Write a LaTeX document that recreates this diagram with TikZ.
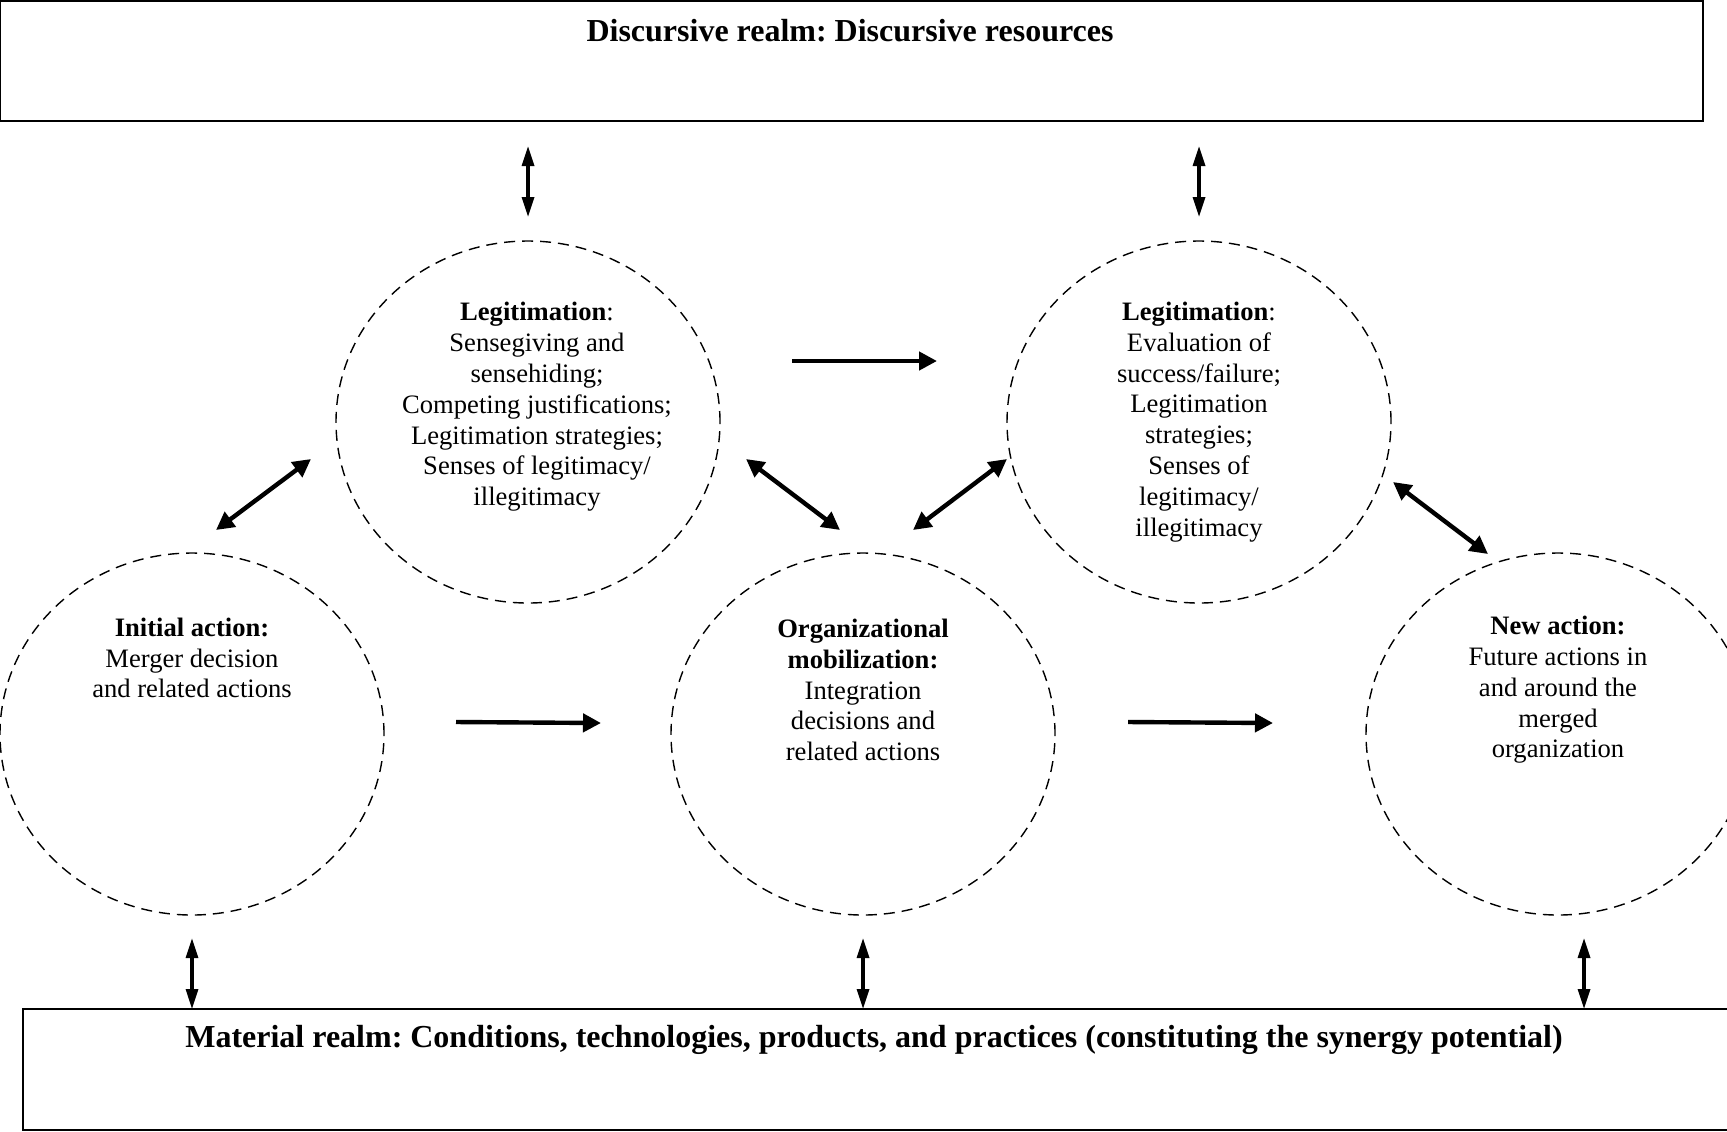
\documentclass[tikz,border=0pt]{standalone}
\usepackage{fontspec}
\setmainfont{Liberation Serif}
\usetikzlibrary{shapes.geometric,arrows.meta}
\begin{document}
\frenchspacing
\begin{tikzpicture}[x=0.5pt,y=-0.5pt,
  realm/.style={draw,line width=1pt,rectangle},
  title/.style={font=\fontsize{16}{19}\selectfont\bfseries,anchor=center},
  circ/.style={draw,dashed,dash pattern=on 5.5pt off 3.5pt,line width=0.7pt,ellipse,minimum width=384*0.5pt,minimum height=362*0.5pt,inner sep=0pt},
  body/.style={font=\fontsize{13.3}{15.4}\selectfont,align=center,anchor=center,inner sep=0pt},
  dbl/.style={line width=2.2pt,{Triangle[length=9pt,width=9pt]}-{Triangle[length=9pt,width=9pt]}},
  one/.style={line width=2.2pt,-{Triangle[length=9pt,width=9pt]}},
  vdbl/.style={line width=1.6pt,{Triangle[length=10pt,width=6pt]}-{Triangle[length=10pt,width=6pt]}}
]
\useasboundingbox (0,0) rectangle (1727,1131);
% realms
\node[realm,minimum width=1703*0.5pt,minimum height=120*0.5pt] (disc) at (851.5,61) {};
\node[title] (disct) at (850,31) {Discursive realm: Discursive resources};
\node[realm,minimum width=1720*0.5pt,minimum height=121*0.5pt] (mat) at (883,1069.5) {};
\node[title] (matt) at (874,1040) {Material realm: Conditions, technologies, products, and practices (constituting the synergy potential)};
% circles
\node[circ] (leg1) at (528,422) {};
\node[circ] (leg2) at (1199,422) {};
\node[circ] (init) at (192,734) {};
\node[circ] (org) at (863,734) {};
\node[circ] (new) at (1558,734) {};
% texts
\node[body] (leg1t) at (537,407) {\textbf{Legitimation}:\\Sensegiving and\\sensehiding;\\Competing justifications;\\Legitimation strategies;\\Senses of legitimacy/\\illegitimacy};
\node[body] (leg2t) at (1199,422) {\textbf{Legitimation}:\\Evaluation of\\success/failure;\\Legitimation\\strategies;\\Senses of\\legitimacy/\\illegitimacy};
\node[body] (initt) at (192,658) {\textbf{Initial action:}\\Merger decision\\and related actions};
\node[body] (orgt) at (863,690) {\textbf{Organizational}\\\textbf{mobilization:}\\Integration\\decisions and\\related actions};
\node[body] (newt) at (1558,690) {\textbf{New action:}\\Future actions in\\and around the\\merged\\organization};
% connector end points
\coordinate (t1a) at (528,146); \coordinate (t1b) at (528,217);
\coordinate (t2a) at (1199,146); \coordinate (t2b) at (1199,217);
\coordinate (b1a) at (192,938); \coordinate (b1b) at (192,1009);
\coordinate (b2a) at (863,938); \coordinate (b2b) at (863,1009);
\coordinate (b3a) at (1584,938); \coordinate (b3b) at (1584,1009);
\coordinate (h1a) at (456,722); \coordinate (h1b) at (601,723);
\coordinate (h2a) at (1128,722); \coordinate (h2b) at (1273,723);
\coordinate (h3a) at (792,361); \coordinate (h3b) at (937,361);
\coordinate (d1a) at (216,530); \coordinate (d1b) at (311,459);
\coordinate (d2a) at (746,459); \coordinate (d2b) at (840,530);
\coordinate (d3a) at (913,530); \coordinate (d3b) at (1007,459);
\coordinate (d4a) at (1393,482); \coordinate (d4b) at (1488,554);
% connectors
\draw[vdbl] (t1a) -- (t1b);
\draw[vdbl] (t2a) -- (t2b);
\draw[vdbl] (b1a) -- (b1b);
\draw[vdbl] (b2a) -- (b2b);
\draw[vdbl] (b3a) -- (b3b);
\draw[one] (h1a) -- (h1b);
\draw[one] (h2a) -- (h2b);
\draw[one] (h3a) -- (h3b);
\draw[dbl] (d1a) -- (d1b);
\draw[dbl] (d2a) -- (d2b);
\draw[dbl] (d3a) -- (d3b);
\draw[dbl] (d4a) -- (d4b);
\end{tikzpicture}
\end{document}
